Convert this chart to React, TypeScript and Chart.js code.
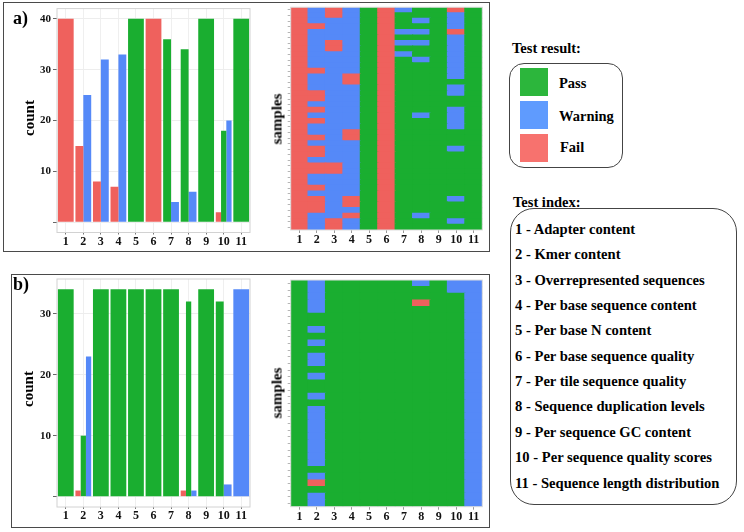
import React, { useEffect, useRef } from 'react';
import { Chart, registerables } from 'chart.js';

Chart.register(...registerables);

// ---------- data ----------
const categories = ['1', '2', '3', '4', '5', '6', '7', '8', '9', '10', '11'];

const aFail = [40, 15, 8, 7, null, 40, null, null, null, 2, null];
const aPass = [null, null, null, null, 40, null, 36, 34, 40, 18, 40];
const aWarning = [null, 25, 32, 33, null, null, 4, 6, null, 20, null];
const aTicks = [0, 10, 20, 30, 40];

const bFail = [null, 1, null, null, null, null, null, 1, null, null, null];
const bPass = [34, 10, 34, 34, 34, 34, 34, 32, 34, 32, null];
const bWarning = [null, 23, null, null, null, null, null, 1, null, 2, 34];
const bTicks = [0, 10, 20, 30];

// heatmap rows, top to bottom; one letter per test index (F = Fail, W = Warning, P = Pass)
const heatA = [
  'FWFWPFWPPFP', 'FWFWPFPPPWP', 'FWWWPFPWPWP', 'FFWWPFPPPWP', 'FWWWPFWWPFP',
  'FWWWPFPPPWP', 'FWFWPFWWPWP', 'FWFWPFPPPWP', 'FWWWPFWPPWP', 'FWWWPFPWPWP',
  'FWWWPFPPPWP', 'FFWWPFPPPWP', 'FWWFPFPPPWP', 'FWWFPFPPPPP', 'FWWWPFPPPWP',
  'FFWWPFPPPWP', 'FFWWPFPPPPP', 'FWWWPFPPPPP', 'FFWWPFPPPWP', 'FWWWPFPWPWP',
  'FFWWPFPPPWP', 'FWWWPFPPPWP', 'FWWFPFPPPPP', 'FFWFPFPPPPP', 'FWWWPFPPPPP',
  'FFWWPFPPPWP', 'FFWWPFPPPPP', 'FWWWPFPPPPP', 'FFFWPFPPPPP', 'FFFWPFPPPPP',
  'FWWWPFPPPPP', 'FWWWPFPPPPP', 'FFWWPFPPPPP', 'FWWWPFPPPPP', 'FFWFPFPPPWP',
  'FFWFPFPPPPP', 'FFWWPFPPPPP', 'FWWFPFPWPPP', 'FWFWPFPPPWP', 'FWFWPFPPPPP',
];

const heatB = [
  'PWPPPPPWPWW', 'PWPPPPPPPWW', 'PWPPPPPPPPW', 'PWPPPPPFPPW', 'PWPPPPPPPPW',
  'PPPPPPPPPPW', 'PPPPPPPPPPW', 'PWPPPPPPPPW', 'PPPPPPPPPPW', 'PWPPPPPPPPW',
  'PPPPPPPPPPW', 'PWPPPPPPPPW', 'PWPPPPPPPPW', 'PPPPPPPPPPW', 'PWPPPPPPPPW',
  'PPPPPPPPPPW', 'PPPPPPPPPPW', 'PWPPPPPPPPW', 'PPPPPPPPPPW', 'PWPPPPPPPPW',
  'PWPPPPPPPPW', 'PWPPPPPPPPW', 'PWPPPPPPPPW', 'PWPPPPPPPPW', 'PWPPPPPPPPW',
  'PWPPPPPPPPW', 'PWPPPPPPPPW', 'PWPPPPPPPPW', 'PPPPPPPPPPW', 'PWPPPPPPPPW',
  'PFPPPPPPPPW', 'PPPPPPPPPPW', 'PWPPPPPPPPW', 'PWPPPPPPPPW',
];

const legendResults = ['Pass', 'Warning', 'Fail'];
const testNames = [
  'Adapter content',
  'Kmer content',
  'Overrepresented sequences',
  'Per base sequence content',
  'Per base N content',
  'Per base sequence quality',
  'Per tile sequence quality',
  'Sequence duplication levels',
  'Per sequence GC content',
  'Per sequence quality scores',
  'Sequence length distribution',
];

// ---------- styles ----------
const FAMILY = "'Liberation Serif', 'Times New Roman', Times, serif";
const COLOR: Record<string, string> = { F: '#EF615D', W: '#5589F8', P: '#1AAE30' };
const LEGEND_COLOR: Record<string, string> = { Pass: '#2CB63C', Warning: '#5F9BFE', Fail: '#F7726E' };

const framePlugin = {
  id: 'panelFrame',
  afterDraw(chart: any, _args: any, opts: any) {
    const { ctx, chartArea: a } = chart;
    ctx.save();
    ctx.strokeStyle = (opts && opts.color) || '#cccccc';
    ctx.lineWidth = 1;
    ctx.strokeRect(a.left, a.top, a.right - a.left, a.bottom - a.top);
    ctx.restore();
  },
};

const tickFont = { family: FAMILY, size: 12, weight: 'bold' as const };

function barConfig(fail: any[], pass: any[], warn: any[], ticks: number[], yMin: number, yMax: number, pad: any) {
  return {
    type: 'bar',
    data: {
      labels: categories,
      datasets: [
        { label: 'Fail', data: fail, backgroundColor: COLOR.F, skipNull: true },
        { label: 'Pass', data: pass, backgroundColor: COLOR.P, skipNull: true },
        { label: 'Warning', data: warn, backgroundColor: COLOR.W, skipNull: true },
      ],
    },
    options: {
      animation: false,
      responsive: false,
      events: [],
      layout: { padding: pad },
      datasets: { bar: { categoryPercentage: 0.9, barPercentage: 1, skipNull: true, borderWidth: 0, inflateAmount: 0 } },
      plugins: { legend: { display: false }, tooltip: { enabled: false }, panelFrame: { color: '#d2d2d2' } },
      scales: {
        x: {
          grid: { offset: false, color: '#efefef', tickColor: '#777', tickLength: 2 },
          border: { display: false },
          ticks: { color: '#111', font: tickFont, padding: 0, autoSkip: false, maxRotation: 0 },
          afterFit: (s: any) => { s.height = 19; },
        },
        y: {
          min: yMin,
          max: yMax,
          afterBuildTicks: (s: any) => { s.ticks = ticks.map((v) => ({ value: v })); },
          grid: { color: '#ededed', tickColor: '#666', tickLength: 4 },
          border: { display: false },
          ticks: {
            callback: (v: any) => (v === 0 ? '' : String(v)),
            color: '#111',
            font: { family: FAMILY, size: 11, weight: 'bold' },
            padding: 2,
          },
          afterFit: (s: any) => { s.width = 43; },
        },
      },
    },
    plugins: [framePlugin],
  };
}

function heatConfig(rows: string[], pad: any, yWidth: number) {
  const n = rows.length;
  const datasets = rows
    .slice()
    .reverse()
    .map((row, i) => ({
      label: 'sample ' + (n - i),
      data: categories.map(() => 1),
      backgroundColor: row.split('').map((c) => COLOR[c]),
      borderWidth: 0,
      inflateAmount: 0.6,
    }));
  return {
    type: 'bar',
    data: { labels: categories, datasets },
    options: {
      animation: false,
      responsive: false,
      events: [],
      layout: { padding: pad },
      datasets: { bar: { categoryPercentage: 1, barPercentage: 1 } },
      plugins: { legend: { display: false }, tooltip: { enabled: false }, panelFrame: { color: '#dddddd' } },
      scales: {
        x: {
          stacked: true,
          grid: { offset: false, drawOnChartArea: false, tickColor: '#999', tickLength: 3 },
          border: { display: false },
          ticks: { color: '#111', font: tickFont, padding: 0, autoSkip: false, maxRotation: 0 },
          afterFit: (s: any) => { s.height = 19; },
        },
        y: {
          stacked: true,
          min: 0,
          max: n,
          afterBuildTicks: (s: any) => { s.ticks = rows.map((_, i) => ({ value: i + 0.5 })); },
          grid: { drawOnChartArea: false, tickColor: '#b5b5b5', tickLength: 3 },
          border: { display: false },
          ticks: { callback: () => '', autoSkip: false, padding: 0 },
          afterFit: (s: any) => { s.width = yWidth; },
        },
      },
    },
    plugins: [framePlugin],
  };
}

function ChartCanvas({ make, left, top, width, height }: any) {
  const ref = useRef<HTMLCanvasElement | null>(null);
  useEffect(() => {
    const chart = new Chart(ref.current as HTMLCanvasElement, make() as any);
    return () => chart.destroy();
  }, []);
  return (
    <canvas
      ref={ref}
      width={width}
      height={height}
      style={{ position: 'absolute', left, top, width, height }}
    />
  );
}

const abs = (left: number, top: number, extra: any = {}) => ({ position: 'absolute' as const, left, top, ...extra });

function VText({ text, cx, cy }: { text: string; cx: number; cy: number }) {
  return (
    <div
      style={{
        position: 'absolute',
        left: cx,
        top: cy,
        transform: 'translate(-50%, -50%) rotate(-90deg)',
        fontSize: 15,
        fontWeight: 'bold',
        lineHeight: '15px',
        whiteSpace: 'nowrap',
        color: '#000',
      }}
    >
      {text}
    </div>
  );
}

export default function App() {
  const lbl = { fontSize: 14.5, fontWeight: 'bold' as const, lineHeight: '16px', whiteSpace: 'nowrap' as const, color: '#000' };
  const swatchTops = [68, 101, 133.5];
  const labelCenters = [83, 116, 147];
  return (
    <div style={{ position: 'absolute', left: 0, top: 0, width: 744, height: 532, background: '#fff', fontFamily: FAMILY, overflow: 'hidden' }}>
      {/* panel frames */}
      <div style={abs(3, 1.5, { width: 487, height: 250, border: '1.5px solid #4a4a4a', boxSizing: 'border-box' })} />
      <div style={abs(11, 274, { width: 479, height: 254, border: '1.5px solid #4a4a4a', boxSizing: 'border-box' })} />

      {/* panel a */}
      <ChartCanvas
        left={14} top={0} width={242} height={252}
        make={() => barConfig(aFail, aPass, aWarning, aTicks, -2, 42, { left: 0, right: 6, top: 1.5, bottom: 0.5 })}
      />
      <ChartCanvas
        left={262} top={0} width={228} height={252}
        make={() => heatConfig(heatA, { left: 0, right: 7.7, top: 6, bottom: 3 }, 28.7)}
      />
      <div style={abs(13, 8.5, { fontSize: 18, fontWeight: 'bold', lineHeight: '18px' })}>a)</div>
      <VText text="count" cx={29} cy={118} />
      <VText text="samples" cx={276.5} cy={119} />

      {/* panel b */}
      <ChartCanvas
        left={14} top={262} width={242} height={270}
        make={() => barConfig(bFail, bPass, bWarning, bTicks, -1.7, 35.7, { left: 0, right: 6, top: 17, bottom: 6 })}
      />
      <ChartCanvas
        left={262} top={262} width={228} height={270}
        make={() => heatConfig(heatB, { left: 0, right: 7.7, top: 18, bottom: 6.3 }, 28.7)}
      />
      <div style={abs(13, 275, { fontSize: 18, fontWeight: 'bold', lineHeight: '18px' })}>b)</div>
      <VText text="count" cx={28} cy={389} />
      <VText text="samples" cx={276.5} cy={393} />

      {/* legend: test result */}
      <div style={abs(512, 39.5, lbl)}>Test result:</div>
      <div style={abs(509, 63, { width: 114, height: 105, border: '1.5px solid #444', borderRadius: 15, boxSizing: 'border-box' })} />
      {legendResults.map((r, i) => (
        <React.Fragment key={r}>
          <div style={abs(520, swatchTops[i], { width: 28, height: 28, background: LEGEND_COLOR[r] })} />
          <div style={abs(i === 2 ? 560 : 559, labelCenters[i] - 8, lbl)}>{r}</div>
        </React.Fragment>
      ))}

      {/* legend: test index */}
      <div style={abs(513, 194, lbl)}>Test index:</div>
      <div style={abs(510, 208, { width: 227, height: 297, border: '1.5px solid #444', borderRadius: 24, boxSizing: 'border-box' })} />
      {testNames.map((name, i) => (
        <div key={name} style={abs(515, 221 + i * 25.35, { ...lbl, fontSize: 14.6 })}>
          {i + 1} - {name}
        </div>
      ))}
    </div>
  );
}
